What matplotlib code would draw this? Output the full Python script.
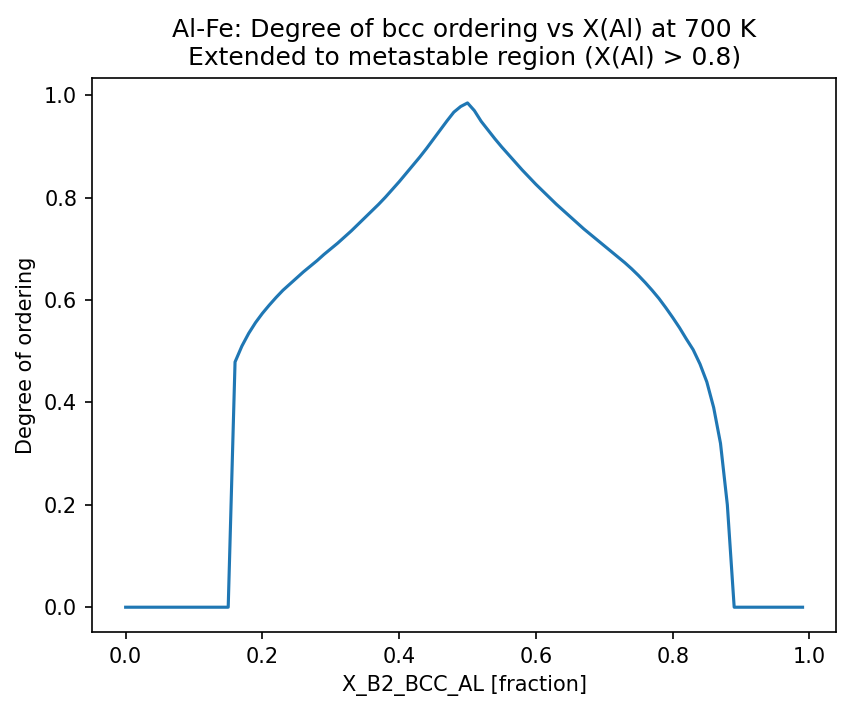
import numpy as np
import matplotlib
matplotlib.use("Agg")
import matplotlib.pyplot as plt

# composition grid, step 0.01
x_al = np.round(np.arange(0.0, 1.0, 0.01), 2)

# degree of ordering (0.16 .. 0.88), zero elsewhere
ordered_x = [0.16, 0.17, 0.18, 0.19, 0.20, 0.21, 0.22, 0.23, 0.24, 0.25,
             0.26, 0.27, 0.28, 0.29, 0.30, 0.31, 0.32, 0.33, 0.34, 0.35,
             0.36, 0.37, 0.38, 0.39, 0.40, 0.41, 0.42, 0.43, 0.44, 0.45,
             0.46, 0.47, 0.48, 0.49, 0.50, 0.51, 0.52, 0.53, 0.54, 0.55,
             0.56, 0.57, 0.58, 0.59, 0.60, 0.61, 0.62, 0.63, 0.64, 0.65,
             0.66, 0.67, 0.68, 0.69, 0.70, 0.71, 0.72, 0.73, 0.74, 0.75,
             0.76, 0.77, 0.78, 0.79, 0.80, 0.81, 0.82, 0.83, 0.84, 0.85,
             0.86, 0.87, 0.88]
ordered_y = [0.479, 0.510, 0.535, 0.556, 0.574, 0.590, 0.605, 0.619, 0.631, 0.643,
             0.655, 0.666, 0.677, 0.689, 0.700, 0.711, 0.723, 0.735, 0.748, 0.761,
             0.774, 0.787, 0.801, 0.816, 0.831, 0.847, 0.863, 0.879, 0.896, 0.914,
             0.932, 0.950, 0.967, 0.978, 0.985, 0.970, 0.949, 0.932, 0.915, 0.899,
             0.884, 0.869, 0.854, 0.840, 0.826, 0.813, 0.800, 0.787, 0.775, 0.763,
             0.751, 0.739, 0.728, 0.717, 0.706, 0.695, 0.684, 0.673, 0.661, 0.648,
             0.634, 0.619, 0.603, 0.585, 0.566, 0.546, 0.524, 0.503, 0.475, 0.440,
             0.390, 0.320, 0.200]

degree = np.zeros_like(x_al)
for xv, yv in zip(ordered_x, ordered_y):
    degree[np.isclose(x_al, xv)] = yv

fig = plt.figure(figsize=(850 / 150, 713 / 150), dpi=150)
ax = fig.add_subplot(111)
fig.subplots_adjust(left=0.108, right=0.984, bottom=0.113, top=0.891)

ax.plot(x_al, degree)
ax.set_title("Al-Fe: Degree of bcc ordering vs X(Al) at 700 K\n"
             "Extended to metastable region (X(Al) > 0.8)")
ax.set_xlabel("X_B2_BCC_AL [fraction]")
ax.set_ylabel("Degree of ordering")

fig.savefig("out.png", dpi=150)
